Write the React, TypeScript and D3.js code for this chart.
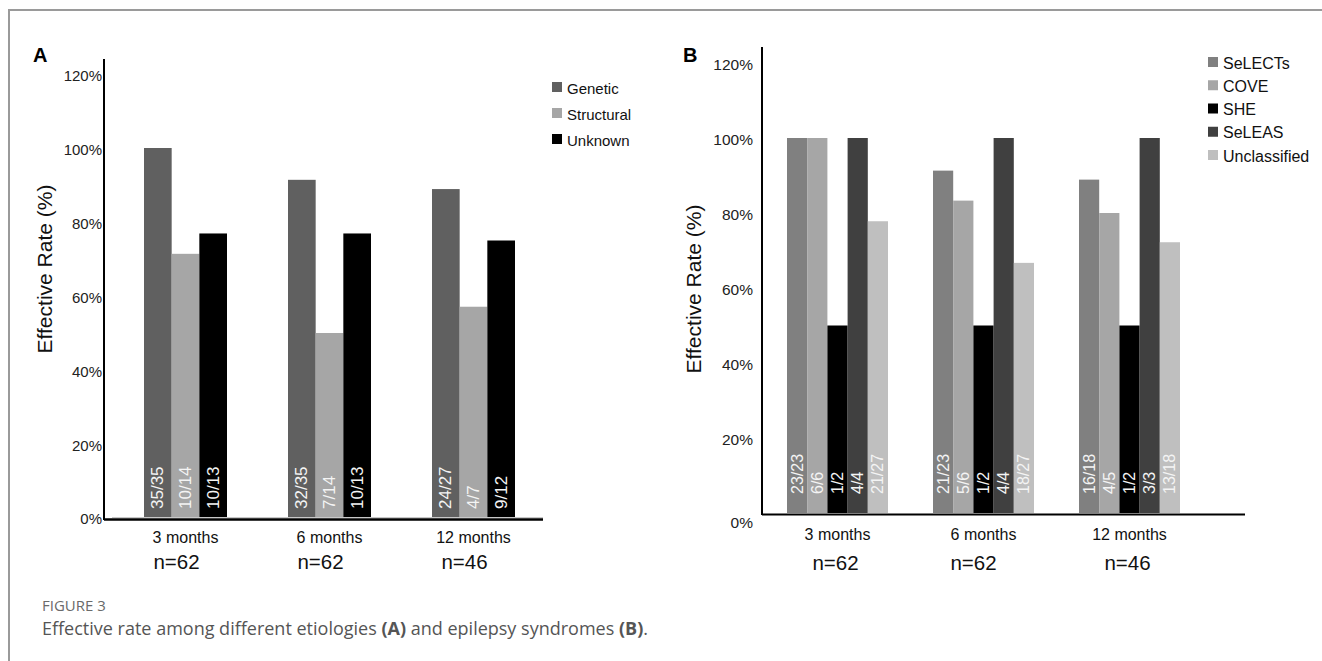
import React from "react";
import * as d3 from "d3";

// ---------- Data ----------
const groups = ["3 months", "6 months", "12 months"];
const groupNsA = ["n=62", "n=62", "n=46"];
const groupNsB = ["n=62", "n=62", "n=46"];

const seriesA = ["Genetic", "Structural", "Unknown"];
const geneticVals = [100, 91.4, 88.9];
const structuralVals = [71.4, 50, 57.1];
const unknownVals = [76.9, 76.9, 75];
const geneticLbl = ["35/35", "32/35", "24/27"];
const structuralLbl = ["10/14", "7/14", "4/7"];
const unknownLbl = ["10/13", "10/13", "9/12"];

const seriesB = ["SeLECTs", "COVE", "SHE", "SeLEAS", "Unclassified"];
const selectsVals = [100, 91.3, 88.9];
const coveVals = [100, 83.3, 80];
const sheVals = [50, 50, 50];
const seleasVals = [100, 100, 100];
const unclassVals = [77.8, 66.7, 72.2];
const selectsLbl = ["23/23", "21/23", "16/18"];
const coveLbl = ["6/6", "5/6", "4/5"];
const sheLbl = ["1/2", "1/2", "1/2"];
const seleasLbl = ["4/4", "4/4", "3/3"];
const unclassLbl = ["21/27", "18/27", "13/18"];

const yTicks = [0, 20, 40, 60, 80, 100, 120];

// ---------- Styles ----------
const colorsA = ["#606060", "#a6a6a6", "#000000"];
const colorsB = ["#808080", "#a6a6a6", "#000000", "#404040", "#bfbfbf"];
const FONT = "'Liberation Sans', Arial, sans-serif";

type Panel = {
  series: string[];
  vals: number[][];
  lbls: string[][];
  colors: string[];
  ns: string[];
  nOffset: number[];
  xCenters: [number, number];
  groupWidth: number;
  y0: number;
  y120: number;
  axisX: number;
  axisTop: number;
  axisRight: number;
  tickLabelRight: number;
  tickFont: number;
  barLblFont: number;
  barLblGap: number;
  legendX: number;
  legendY0: number;
  legendStep: number;
  legendFont: number;
  titleX: number;
  titleY: number;
  letter: string;
  letterX: number;
  letterY: number;
  catY: number;
  nY: number;
  xAxisW: number;
  zeroDy: number;
  baseLine: boolean;
};

const panelA: Panel = {
  series: seriesA,
  vals: [geneticVals, structuralVals, unknownVals],
  lbls: [geneticLbl, structuralLbl, unknownLbl],
  colors: colorsA,
  ns: groupNsA,
  nOffset: [-9, -9, -9],
  xCenters: [185.5, 473.5],
  groupWidth: 83,
  y0: 518,
  y120: 74,
  axisX: 104,
  axisTop: 59,
  axisRight: 543,
  tickLabelRight: 102,
  tickFont: 15,
  barLblFont: 17,
  barLblGap: 9,
  legendX: 552,
  legendY0: 87,
  legendStep: 26,
  legendFont: 15,
  titleX: 44,
  titleY: 269,
  letter: "A",
  letterX: 33,
  letterY: 55,
  catY: 537,
  nY: 561,
  xAxisW: 2.5,
  zeroDy: 0,
  baseLine: true,
};

const panelB: Panel = {
  series: seriesB,
  vals: [selectsVals, coveVals, sheVals, seleasVals, unclassVals],
  lbls: [selectsLbl, coveLbl, sheLbl, seleasLbl, unclassLbl],
  colors: colorsB,
  ns: groupNsB,
  nOffset: [-2, -10, -2],
  xCenters: [837.5, 1129.5],
  groupWidth: 101,
  y0: 513,
  y120: 63,
  axisX: 762,
  axisTop: 47,
  axisRight: 1245,
  tickLabelRight: 753,
  tickFont: 15.5,
  barLblFont: 16,
  barLblGap: 19,
  legendX: 1208,
  legendY0: 62,
  legendStep: 23.25,
  legendFont: 16,
  titleX: 693,
  titleY: 289,
  letter: "B",
  letterX: 683,
  letterY: 55,
  catY: 534,
  nY: 562,
  xAxisW: 2,
  zeroDy: 9,
  baseLine: false,
};

function ChartPanel({ p }: { p: Panel }) {
  const x = d3.scalePoint<string>().domain(groups).range(p.xCenters);
  const xi = d3
    .scaleBand<string>()
    .domain(p.series)
    .range([-p.groupWidth / 2, p.groupWidth / 2])
    .padding(0);
  const y = d3.scaleLinear().domain([0, 120]).range([p.y0, p.y120]);
  const bw = xi.bandwidth();

  return (
    <g style={{ fontFamily: FONT }}>
      <text x={p.letterX} y={p.letterY} fontSize={20} fontWeight="bold" dominantBaseline="central" fill="#000">
        {p.letter}
      </text>
      {/* y tick labels */}
      {yTicks.map((t) => (
        <text
          key={t}
          x={p.tickLabelRight}
          y={y(t) + (t === 0 ? p.zeroDy : 1)}
          textAnchor="end"
          dominantBaseline="central"
          fontSize={p.tickFont}
          fill="#222"
        >
          {t}%
        </text>
      ))}
      {/* y title */}
      <text
        transform={`translate(${p.titleX},${p.titleY}) rotate(-90)`}
        textAnchor="middle"
        dominantBaseline="central"
        fontSize={21}
        fill="#111"
      >
        Effective Rate (%)
      </text>
      {/* bars */}
      {p.series.map((s, si) =>
        groups.map((g, gi) => {
          const bx = (x(g) as number) + (xi(s) as number);
          const v = p.vals[si][gi];
          return (
            <g key={s + g}>
              <rect x={bx} y={y(v)} width={bw} height={y(0) - y(v)} fill={p.colors[si]} />
              <text
                transform={`translate(${bx + bw / 2},${y(0) - p.barLblGap}) rotate(-90)`}
                textAnchor="start"
                dominantBaseline="central"
                fontSize={p.barLblFont}
                fill="#f4f4f4"
              >
                {p.lbls[si][gi]}
              </text>
            </g>
          );
        })
      )}
      {/* axes */}
      {p.baseLine && (
        <line x1={p.axisX + 8} x2={p.axisRight} y1={p.y0 - 0.5} y2={p.y0 - 0.5} stroke="#c8c8c8" strokeWidth={1} />
      )}
      <line x1={p.axisX} x2={p.axisX} y1={p.axisTop} y2={p.y0 + 2} stroke="#000" strokeWidth={2} />
      <line x1={p.axisX} x2={p.axisRight} y1={p.y0 + 1.5} y2={p.y0 + 1.5} stroke="#000" strokeWidth={p.xAxisW} />
      {/* category labels */}
      {groups.map((g, gi) => (
        <g key={g}>
          <text x={x(g)} y={p.catY} textAnchor="middle" dominantBaseline="central" fontSize={16} fill="#111">
            {g}
          </text>
          <text
            x={(x(g) as number) + p.nOffset[gi]}
            y={p.nY}
            textAnchor="middle"
            dominantBaseline="central"
            fontSize={20.5}
            fill="#111"
          >
            {p.ns[gi]}
          </text>
        </g>
      ))}
      {/* legend */}
      {p.series.map((s, si) => (
        <g key={s}>
          <rect
            x={p.legendX}
            y={p.legendY0 + si * p.legendStep - 5}
            width={10}
            height={10}
            fill={p.colors[si]}
          />
          <text
            x={p.legendX + 15}
            y={p.legendY0 + si * p.legendStep + 1}
            dominantBaseline="central"
            fontSize={p.legendFont}
            fill="#111"
          >
            {s}
          </text>
        </g>
      ))}
    </g>
  );
}

export default function App() {
  return (
    <svg
      width={1322}
      height={661}
      style={{ position: "absolute", left: 0, top: 0, background: "#fff" }}
    >
      <rect x={0} y={0} width={1322} height={661} fill="#fff" />
      <path d="M9,661 L9,10 L1322,10" fill="none" stroke="#9a9a9a" strokeWidth={2} />
      <ChartPanel p={panelA} />
      <ChartPanel p={panelB} />
      <text x={42} y={605} fontFamily="'Open Sans', sans-serif" fontSize={15} fill="#6a6a6a" dominantBaseline="central">
        FIGURE 3
      </text>
      <text x={42} y={628} fontFamily="'Open Sans', sans-serif" fontSize={18} fill="#555" dominantBaseline="central">
        Effective rate among different etiologies <tspan fontWeight="bold">(A)</tspan> and epilepsy syndromes{" "}
        <tspan fontWeight="bold">(B)</tspan>.
      </text>
    </svg>
  );
}
